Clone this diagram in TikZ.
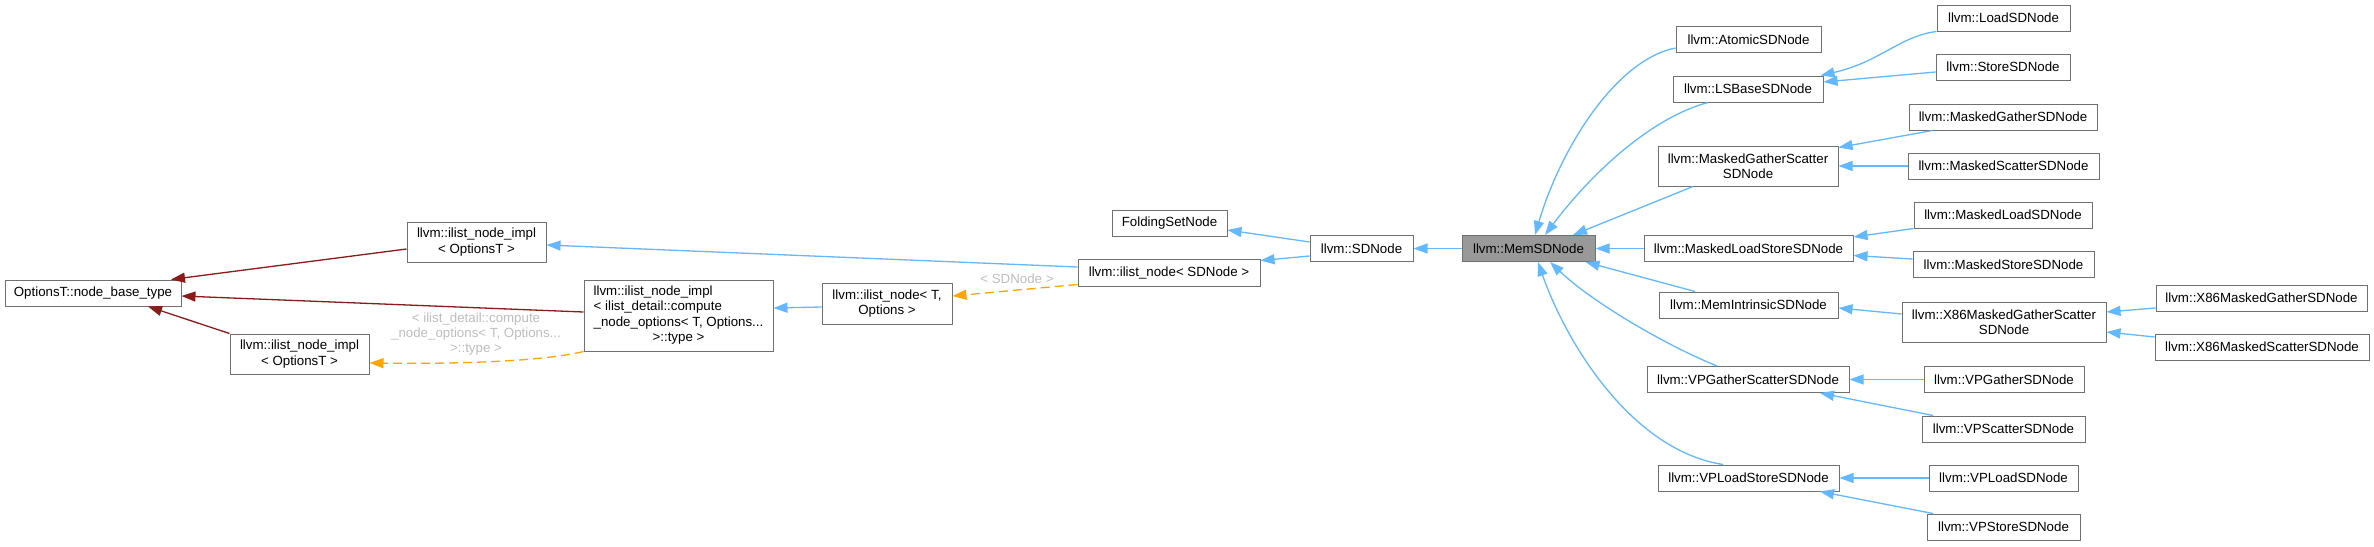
\documentclass[tikz,border=0pt]{standalone}
\usepackage{fontspec}
\setmainfont{Liberation Sans}
\usetikzlibrary{arrows.meta}
\definecolor{edgeblue}{HTML}{63B8FF}
\definecolor{edgered}{HTML}{8B1A1A}
\definecolor{edgeorange}{HTML}{FFA500}
\definecolor{boxline}{HTML}{707070}
\definecolor{labelgrey}{HTML}{BEBEBE}
\definecolor{focusfill}{HTML}{999999}
\begin{document}
\begin{tikzpicture}[x=1pt,y=-1pt,
  cls/.style={draw=boxline, line width=1pt, fill=white, inner sep=0pt, align=center,
    font=\fontsize{13.3}{15.3}\selectfont, minimum height=26pt},
  focus/.style={cls, fill=focusfill},
  lbl/.style={inner sep=0pt, align=center, text=labelgrey, font=\fontsize{13.3}{15.3}\selectfont},
  tip/.style={-{Triangle[length=14pt,width=10pt]}},
  inh/.style={draw=edgeblue, line width=1.3pt, tip},
  inhred/.style={draw=edgered, line width=1.3pt, tip},
  tmpl/.style={draw=edgeorange, line width=1.3pt, dash pattern=on 9pt off 5pt, tip}]
\useasboundingbox (0,0) rectangle (2374,546);
\fill[white] (0,0) rectangle (2374,546);

% nodes
\node[cls, minimum width=176pt] (OptionsT) at (93,293) {OptionsT::node\_base\_type};
\node[cls, minimum width=139pt, minimum height=40pt] (topimpl) at (476.5,242) {llvm::ilist\_node\_impl\\< OptionsT >};
\node[cls, minimum width=139pt, minimum height=40pt] (botimpl) at (299.5,354) {llvm::ilist\_node\_impl\\< OptionsT >};
\node[cls, minimum width=189pt, minimum height=71pt] (bigimpl) at (678.5,315.5)
  {\begin{tabular}{@{}l@{}}llvm::ilist\_node\_impl\\< ilist\_detail::compute\\\_node\_options< T, Options...\\\multicolumn{1}{@{}c@{}}{>::type >}\end{tabular}};
\node[cls, minimum width=130pt, minimum height=41pt] (ilistT) at (887,303.5) {llvm::ilist\_node< T,\\Options >};
\node[cls, minimum width=115pt] (Folding) at (1169.5,223.5) {FoldingSetNode};
\node[cls, minimum width=182pt, minimum height=27pt] (ilistSD) at (1169,272.5) {llvm::ilist\_node< SDNode >};
\node[cls, minimum width=103pt] (SDNode) at (1361.5,248.5) {llvm::SDNode};
\node[focus, minimum width=133pt] (Mem) at (1528.5,248.5) {llvm::MemSDNode};

\node[cls, minimum width=145pt] (Atomic) at (1748.5,39.5) {llvm::AtomicSDNode};
\node[cls, minimum width=150pt] (LSBase) at (1748,89) {llvm::LSBaseSDNode};
\node[cls, minimum width=180pt, minimum height=40pt] (MGS) at (1748,166) {llvm::MaskedGatherScatter\\SDNode};
\node[cls, minimum width=209pt] (MLS) at (1748.5,248.5) {llvm::MaskedLoadStoreSDNode};
\node[cls, minimum width=179pt] (MemIntr) at (1748.5,305) {llvm::MemIntrinsicSDNode};
\node[cls, minimum width=202pt] (VPGS) at (1748,379.5) {llvm::VPGatherScatterSDNode};
\node[cls, minimum width=181pt] (VPLS) at (1748.5,478) {llvm::VPLoadStoreSDNode};

\node[cls, minimum width=133pt] (Load) at (2003.5,18) {llvm::LoadSDNode};
\node[cls, minimum width=134pt] (Store) at (2003,67) {llvm::StoreSDNode};
\node[cls, minimum width=188pt] (MGather) at (2003,117) {llvm::MaskedGatherSDNode};
\node[cls, minimum width=191pt] (MScatter) at (2003.5,166) {llvm::MaskedScatterSDNode};
\node[cls, minimum width=178pt] (MLoad) at (2003,215) {llvm::MaskedLoadSDNode};
\node[cls, minimum width=181pt] (MStore) at (2003.5,264.5) {llvm::MaskedStoreSDNode};
\node[cls, minimum width=204pt, minimum height=40pt] (X86MGS) at (2004,322) {llvm::X86MaskedGatherScatter\\SDNode};
\node[cls, minimum width=160pt] (VPGather) at (2004,379.5) {llvm::VPGatherSDNode};
\node[cls, minimum width=163pt] (VPScatter) at (2003.5,429) {llvm::VPScatterSDNode};
\node[cls, minimum width=149pt] (VPLoad) at (2003.5,478) {llvm::VPLoadSDNode};
\node[cls, minimum width=153pt] (VPStore) at (2003.5,527) {llvm::VPStoreSDNode};
\node[cls, minimum width=211pt] (X86Gather) at (2261.5,298) {llvm::X86MaskedGatherSDNode};
\node[cls, minimum width=214pt] (X86Scatter) at (2262,347) {llvm::X86MaskedScatterSDNode};

% labels
\node[lbl] (lab1) at (476,334) {< ilist\_detail::compute\\\_node\_options< T, Options...\\>::type >};
\node[lbl] (lab2) at (1017,279) {< SDNode >};

% left edges
\draw[inhred] ([yshift=-7pt]topimpl.west) -- ([xshift=78pt]OptionsT.north);
\draw[inhred] ([yshift=3.5pt]bigimpl.west) -- ([yshift=-3pt]OptionsT.east);
\draw[inhred] (botimpl.north west) -- ([xshift=55pt]OptionsT.south);
\draw[tmpl] (bigimpl.south west) .. controls (540,362) and (450,364) .. ([yshift=-9pt]botimpl.east);
\draw[inh] ([yshift=-3.5pt]ilistT.west) -- ([yshift=7.5pt]bigimpl.east);
\draw[tmpl] ([yshift=2pt]ilistSD.south west) -- ([yshift=7.5pt]ilistT.east);
\draw[inh] ([yshift=5.5pt]ilistSD.west) -- ([yshift=-3pt]topimpl.east);
\draw[inh] ([yshift=6.5pt]SDNode.west) -- ([yshift=-6.5pt]Folding.east);
\draw[inh] ([yshift=-7.5pt]SDNode.west) -- ([yshift=-2pt]ilistSD.north east);
\draw[inh] (Mem.west) -- (SDNode.east);

% edges into MemSDNode
\draw[inh] ([yshift=-8.5pt]Atomic.west) .. controls (1615,60) and (1560,150) .. ([xshift=6.5pt]Mem.north);
\draw[inh] ([xshift=-40pt]LSBase.south) .. controls (1650,118) and (1590,175) .. ([xshift=16.5pt]Mem.north);
\draw[inh] ([xshift=-55pt]MGS.south) -- ([xshift=44.5pt]Mem.north);
\draw[inh] (MLS.west) -- (Mem.east);
\draw[inh] ([xshift=-53.5pt]MemIntr.north) -- ([xshift=-10pt]Mem.south east);
\draw[inh] ([xshift=-31pt]VPGS.north) .. controls (1665,345) and (1592,302) .. ([xshift=21.5pt]Mem.south);
\draw[inh] ([xshift=-25.5pt]VPLS.north) .. controls (1630,450) and (1565,340) .. ([xshift=9.5pt]Mem.south);

% right edges
\draw[inh] (Load.south west) .. controls (1900,36) and (1880,62) .. ([xshift=-3pt]LSBase.north east);
\draw[inh] ([yshift=-5pt]Store.west) -- ([yshift=7pt]LSBase.east);
\draw[inh] ([xshift=24pt]MGather.south west) -- ([yshift=-2pt]MGS.north east);
\draw[inh] (MScatter.west) -- (MGS.east);
\draw[inh] (MLoad.south west) -- ([yshift=-2pt]MLS.north east);
\draw[inh] ([yshift=5.5pt]MStore.west) -- ([yshift=-7pt]MLS.east);
\draw[inh] ([yshift=8pt]X86MGS.west) -- ([yshift=-3pt]MemIntr.east);
\draw[inh] ([yshift=-10pt]X86Gather.west) -- ([yshift=10pt]X86MGS.east);
\draw[inh] ([yshift=10pt]X86Scatter.west) -- ([yshift=-10pt]X86MGS.east);
\draw[inh] (VPGather.west) -- (VPGS.east);
\draw[inh] ([xshift=-70.5pt]VPScatter.north) -- ([xshift=72pt]VPGS.south);
\draw[inh] (VPLoad.west) -- (VPLS.east);
\draw[inh] ([xshift=-70.5pt]VPStore.north) -- ([xshift=71.5pt]VPLS.south);
\end{tikzpicture}
\end{document}
